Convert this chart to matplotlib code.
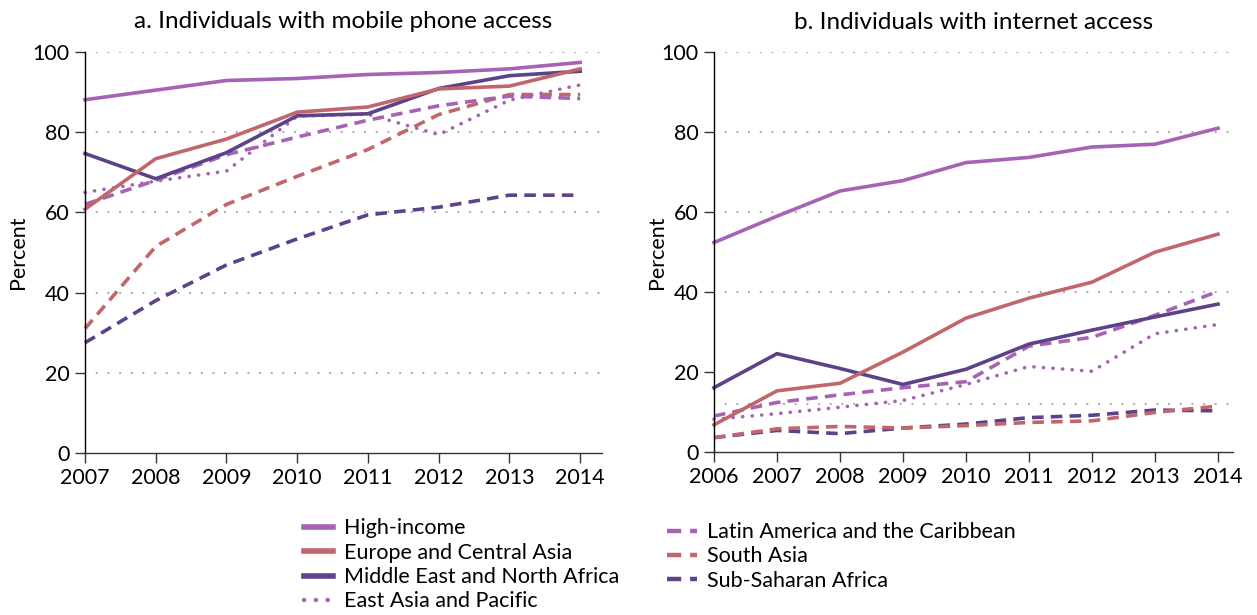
import matplotlib
matplotlib.use("Agg")
import matplotlib.pyplot as plt
from matplotlib.lines import Line2D

plt.rcParams['font.family'] = ['Lato', 'DejaVu Sans']

# ---------------- data ----------------
years_a = [2007, 2008, 2009, 2010, 2011, 2012, 2013, 2014]
years_b = [2006, 2007, 2008, 2009, 2010, 2011, 2012, 2013, 2014]

series_names = ["High-income", "Europe and Central Asia", "Middle East and North Africa",
                "East Asia and Pacific", "Latin America and the Caribbean", "South Asia",
                "Sub-Saharan Africa"]

mobile_high_income = [88.1, 90.5, 92.9, 93.4, 94.4, 94.9, 95.8, 97.4]
mobile_europe      = [60.8, 73.4, 78.3, 85.0, 86.3, 90.8, 91.5, 95.8]
mobile_mena        = [74.7, 68.4, 74.9, 84.1, 84.6, 90.9, 94.1, 95.2]
mobile_east_asia   = [65.0, 67.8, 70.3, 84.0, 84.5, 79.4, 88.0, 91.8]
mobile_latam       = [62.0, 68.0, 74.4, 78.8, 83.0, 86.6, 89.0, 88.4]
mobile_south_asia  = [31.0, 51.5, 62.0, 69.0, 75.7, 84.4, 89.4, 89.4]
mobile_ssa         = [27.5, 38.0, 46.9, 53.4, 59.4, 61.3, 64.3, 64.3]

internet_high_income = [52.4, 59.0, 65.3, 67.9, 72.4, 73.7, 76.3, 77.0, 81.0]
internet_europe      = [6.8, 15.3, 17.2, 25.0, 33.5, 38.5, 42.5, 50.0, 54.5]
internet_mena        = [16.1, 24.6, 20.9, 16.9, 20.7, 27.0, 30.5, 33.8, 37.0]
internet_east_asia   = [8.2, 9.6, 11.2, 12.9, 16.9, 21.4, 20.2, 29.6, 31.9]
internet_latam       = [9.0, 12.4, 14.3, 16.1, 17.6, 26.5, 28.7, 34.2, 40.2]
internet_south_asia  = [3.6, 5.8, 6.4, 6.0, 6.6, 7.4, 7.8, 9.9, 11.5]
internet_ssa         = [3.6, 5.4, 4.6, 6.0, 7.0, 8.6, 9.2, 10.5, 10.3]

grid_a = [20, 40, 60, 80, 100]
grid_b = [12, 40, 60, 80, 100]
yticks = [0, 20, 40, 60, 80, 100]

# ---------------- styles ----------------
c_hi = '#A763B3'
c_eu = '#C1666B'
c_me = '#5D4289'
dash = (0, (3.2, 2.0))
dot = (0, (0.05, 2.6))
styles = [
    dict(color=c_hi, ls='-'),
    dict(color=c_eu, ls='-'),
    dict(color=c_me, ls='-'),
    dict(color=c_hi, ls=dot, dash_capstyle='round'),
    dict(color=c_hi, ls=dash),
    dict(color=c_eu, ls=dash),
    dict(color=c_me, ls=dash),
]
LW = 2.6
FS = 15.5

fig = plt.figure(figsize=(12.57, 6.15), dpi=100)
axA = fig.add_axes([0.0676, 0.2634, 0.4114, 0.652])
axB = fig.add_axes([0.568, 0.2650, 0.413, 0.650])

def setup(ax, years, grids, title, xmax, lp):
    ax.set_xlim(years[0], xmax)
    ax.set_ylim(0, 100)
    for g in grids:
        ax.axhline(g, color='#A8A8A8', lw=1.6, ls=(0, (0.05, 5.2)),
                   dash_capstyle='round', zorder=0)
    ax.spines['top'].set_visible(False)
    ax.spines['right'].set_visible(False)
    ax.spines['left'].set_linewidth(1.0)
    ax.spines['bottom'].set_linewidth(1.0)
    ax.spines['bottom'].set_color('#333333')
    ax.set_xticks(years)
    ax.set_xticklabels([str(y) for y in years])
    ax.set_yticks(yticks)
    ax.tick_params(axis='both', direction='out', length=7, width=1.0,
                   labelsize=FS, color='#333333', pad=4)
    ax.set_ylabel("Percent", fontsize=FS, labelpad=lp)
    ax.set_title(title, fontsize=17.5, pad=17)

setup(axA, years_a, grid_a, "a. Individuals with mobile phone access", 2014.31, 3)
setup(axB, years_b, grid_b, "b. Individuals with internet access", 2014.24, -4)

data_a = [mobile_high_income, mobile_europe, mobile_mena, mobile_east_asia,
          mobile_latam, mobile_south_asia, mobile_ssa]
data_b = [internet_high_income, internet_europe, internet_mena, internet_east_asia,
          internet_latam, internet_south_asia, internet_ssa]

order = [6, 5, 4, 3, 2, 1, 0]
for i in order:
    axA.plot(years_a, data_a[i], lw=LW, clip_on=False, **styles[i])
    axB.plot(years_b, data_b[i], lw=LW, clip_on=False, **styles[i])

def handles(idx):
    hs = []
    for i in idx:
        st = dict(styles[i])
        hs.append(Line2D([0], [0], lw=4 if st['ls'] == '-' else 3.2, **st))
    return hs

common = dict(loc='upper left', frameon=False, fontsize=FS, handlelength=1.35,
              handletextpad=0.5, labelspacing=0.2, borderaxespad=0, borderpad=0)
leg1 = fig.legend(handles([0, 1, 2, 3]), [series_names[i] for i in [0, 1, 2, 3]],
                  bbox_to_anchor=(0.242, 0.157), **common)
leg2 = fig.legend(handles([4, 5, 6]), [series_names[i] for i in [4, 5, 6]],
                  bbox_to_anchor=(0.531, 0.151), **common)

fig.savefig("out.png", dpi=100)
